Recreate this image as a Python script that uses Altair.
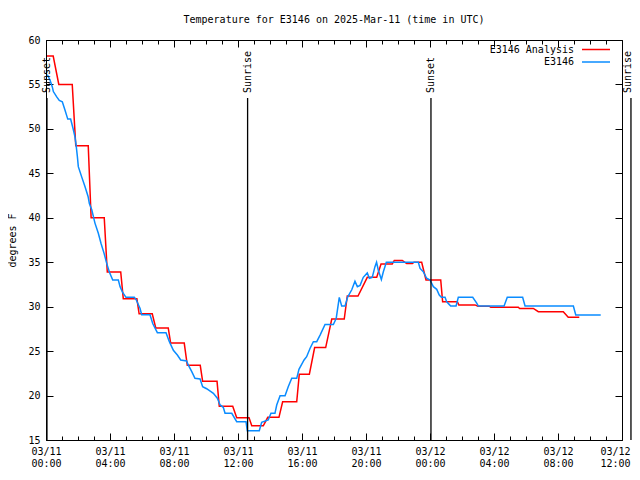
import altair as alt
import pandas as pd

MONO = "DejaVu Sans Mono"
TITLE = "Temperature for E3146 on 2025-Mar-11 (time in UTC)"
SERIES = ["E3146 Analysis", "E3146"]
COLORS = ["#ff0000", "#0a8cff"]

# Analysis (red): hours since 2025-03-11 00:00 UTC, degrees F
red_hours = [0.06, 0.45, 0.8, 1.64, 1.86, 2.64, 2.82, 3.64, 3.83, 4.67, 4.83, 5.68,
             5.82, 6.64, 6.86, 7.64, 7.79, 8.64, 8.83, 9.64, 9.79, 10.69, 10.83, 11.67,
             11.92, 12.69, 12.86, 13.58, 13.86, 14.56, 14.79, 15.67, 15.83, 16.46, 16.79,
             17.48, 17.86, 18.64, 18.83, 19.5, 20.08, 20.67, 20.94, 21.64, 21.77, 22.27,
             22.54, 22.9, 23.0, 23.48, 23.75, 24.67, 24.79, 25.71, 25.8, 26.81, 27.0,
             27.7, 27.8, 29.52, 29.6, 30.46, 30.77, 32.33, 32.64, 33.33]
red_temps = [58.2, 58.2, 55.0, 55.0, 48.1, 48.1, 40.0, 40.0, 33.9, 33.9, 30.9, 30.9,
             29.2, 29.2, 27.6, 27.6, 25.9, 25.9, 23.4, 23.4, 21.6, 21.6, 18.8, 18.8,
             17.5, 17.5, 16.6, 16.6, 17.55, 17.55, 19.3, 19.3, 22.4, 22.4, 25.4,
             25.4, 28.6, 28.6, 31.2, 31.2, 33.3, 33.3, 34.8, 34.8, 35.2, 35.2,
             34.85, 34.85, 35.0, 35.0, 33.0, 33.0, 30.55, 30.55, 30.2, 30.2, 30.05,
             30.05, 29.93, 29.93, 29.8, 29.8, 29.44, 29.44, 28.8, 28.8]

# Observations (blue)
blue_hours = [0.08, 0.25, 0.39, 0.46, 0.67, 0.83, 1.02, 1.19, 1.36, 1.54, 1.71, 1.81,
              1.88, 1.96, 2.02, 2.23, 2.44, 2.63, 2.71, 2.86, 3.06, 3.27, 3.44, 3.63,
              3.79, 3.96, 4.17, 4.52, 4.63, 4.79, 5.0, 5.52, 5.63, 5.88, 5.98, 6.5,
              6.67, 6.96, 7.5, 7.71, 7.96, 8.21, 8.42, 8.79, 8.89, 9.11, 9.31, 9.63,
              9.79, 10.04, 10.46, 10.71, 10.88, 11.08, 11.19, 11.61, 11.92, 12.5, 12.58,
              13.33, 13.48, 13.89, 14.06, 14.31, 14.42, 14.63, 14.94, 15.14, 15.36,
              15.67, 15.81, 16.13, 16.29, 16.5, 16.71, 16.92, 17.13, 17.44, 17.96,
              18.14, 18.33, 18.48, 18.69, 18.86, 19.11, 19.31, 19.46, 19.63, 19.83,
              20.08, 20.21, 20.39, 20.56, 20.66, 20.77, 20.96, 21.08, 21.27, 23.27,
              23.38, 23.58, 23.79, 24.0, 24.21, 24.42, 24.58, 24.71, 24.94, 25.04,
              25.14, 25.29, 25.63, 25.77, 26.67, 26.92, 27.02, 28.63, 28.83, 29.79,
              29.94, 32.96, 33.11, 34.67]
blue_temps = [56.1, 55.5, 54.75, 54.2, 53.6, 53.2, 53.06, 52.1, 51.1, 51.1, 49.9, 49.1,
              48.2, 46.9, 45.75, 44.6, 43.5, 42.4, 41.6, 40.9, 39.4, 38.25, 37.1, 36.0,
              34.9, 33.9, 33.0, 33.0, 32.25, 31.6, 31.05, 31.05, 30.8, 29.8, 29.1, 29.1,
              28.1, 27.07, 27.07, 26.06, 25.1, 24.56, 24.0, 23.9, 23.44, 22.7, 21.94, 21.86,
              21.0, 20.77, 20.25, 19.7, 18.94, 18.68, 18.0, 18.0, 17.06, 17.06, 16.05,
              16.05, 17.0, 17.25, 18.0, 18.0, 18.94, 19.98, 19.98, 21.0, 21.94,
              21.94, 22.95, 24.0, 24.37, 25.3, 26.06, 26.06, 26.8, 28.0, 28.0,
              28.7, 31.05, 30.07, 30.07, 31.1, 31.9, 32.85, 32.25, 32.4, 33.3,
              33.8, 33.2, 33.3, 34.5, 35.0, 34.1, 33.05, 33.9, 35.0, 35.0,
              34.3, 33.93, 33.2, 33.0, 32.25, 31.95, 31.3, 31.05, 31.05, 30.56,
              30.37, 30.07, 30.07, 31.05, 31.05, 30.4, 30.07, 30.07, 31.05, 31.05,
              30.07, 30.07, 29.06, 29.06]

sun_events = ["Sunset", "Sunrise", "Sunset", "Sunrise"]
sun_hours = [0.06, 12.6, 24.06, 36.56]

x_major = [0, 4, 8, 12, 16, 20, 24, 28, 32, 36]
x_minor = list(range(0, 37))
x_tick_dates = ["03/11", "03/11", "03/11", "03/11", "03/11", "03/11", "03/12", "03/12", "03/12", "03/12"]
x_tick_times = ["00:00", "04:00", "08:00", "12:00", "16:00", "20:00", "00:00", "04:00", "08:00", "12:00"]
y_ticks = [15, 20, 25, 30, 35, 40, 45, 50, 55, 60]

label_expr = "[" + ",".join(f"['{d}','{t}']" for d, t in zip(x_tick_dates, x_tick_times)) + "][round(datum.value/4)]"

red_df = pd.DataFrame({"h": red_hours, "t": red_temps})
blue_df = pd.DataFrame({"h": blue_hours, "t": blue_temps})
sun_df = pd.DataFrame({"h": sun_hours, "event": sun_events})

xs = alt.Scale(domain=[0, 36], nice=False, zero=False)
ys = alt.Scale(domain=[15, 60], nice=False, zero=False)

common = dict(domain=False, grid=False, labelFlush=False, labelOverlap=False, labelBound=False)

red = alt.Chart(red_df).mark_line(color=COLORS[0], strokeWidth=1.5).encode(
    x=alt.X("h:Q", scale=xs, axis=alt.Axis(values=x_major, orient="bottom", offset=-7, tickSize=7,
                                           labelExpr=label_expr, labelPadding=6, labelBaseline="top",
                                           labelLineHeight=12, title=None,
                                           labelOffset=alt.condition(f"datum.value == {x_major[-1]}",
                                                                     alt.value(-7), alt.value(0)),
                                           **common)),
    y=alt.Y("t:Q", scale=ys, axis=alt.Axis(values=y_ticks, orient="left", offset=-7, tickSize=7,
                                           labelPadding=6, title="degrees F", titleX=-41, titleY=200,
                                           titleAngle=270, titleAlign="center", titleBaseline="middle",
                                           titleFontWeight="normal", **common)),
)

blue = alt.Chart(blue_df).mark_line(color=COLORS[1], strokeWidth=1.5).encode(
    x=alt.X("h:Q", scale=xs, axis=alt.Axis(values=x_minor, orient="bottom", offset=-4, tickSize=4,
                                           labels=False, title=None, **common)),
    y=alt.Y("t:Q", scale=ys, axis=alt.Axis(values=y_ticks, orient="right", offset=-7, tickSize=7,
                                           labels=False, title=None, **common)),
)

top_major = alt.Chart(blue_df).mark_line(opacity=0).encode(
    x=alt.X("h:Q", scale=xs, axis=alt.Axis(values=x_major, orient="top", offset=-7, tickSize=7,
                                           labels=False, title=None, **common)),
    y=alt.Y("t:Q", scale=ys, axis=None),
)
top_minor = alt.Chart(blue_df).mark_line(opacity=0).encode(
    x=alt.X("h:Q", scale=xs, axis=alt.Axis(values=x_minor, orient="top", offset=-4, tickSize=4,
                                           labels=False, title=None, **common)),
    y=alt.Y("t:Q", scale=ys, axis=None),
)

sun_rules = alt.Chart(sun_df).mark_rule(color="black", strokeWidth=1.3).encode(
    x=alt.X("h:Q", scale=xs, axis=None), y=alt.value(58), y2=alt.value(400)
)
sun_text_in = alt.Chart(sun_df.iloc[:3]).mark_text(angle=270, align="left", baseline="bottom", dy=5,
                                                   font=MONO, fontSize=10, color="black").encode(
    x=alt.X("h:Q", scale=xs, axis=None), y=alt.value(53), text="event:N"
)
sun_text_edge = alt.Chart(sun_df.iloc[3:]).mark_text(angle=270, align="left", baseline="alphabetic", dy=0.5,
                                                     font=MONO, fontSize=10, color="black").encode(
    x=alt.X("h:Q", scale=xs, axis=None), y=alt.value(53), text="event:N"
)

leg_layers = []
for i, (name, col) in enumerate(zip(SERIES, COLORS)):
    ldf = pd.DataFrame({"s": [name]})
    yv = 9.5 + 12.5 * i
    leg_layers.append(alt.Chart(ldf).mark_text(align="right", baseline="middle", font=MONO, fontSize=10,
                                               color="black").encode(
        x=alt.value(528), y=alt.value(yv), text="s:N"))
    leg_layers.append(alt.Chart(ldf).mark_rule(color=col, strokeWidth=1.5).encode(
        x=alt.value(536), x2=alt.value(564), y=alt.value(yv)))

chart = alt.layer(red, blue, top_major, top_minor, sun_rules, sun_text_in, sun_text_edge,
                  *leg_layers).resolve_scale(
    x="independent", y="independent"
).properties(
    width=576, height=400,
    title=alt.TitleParams(TITLE, font=MONO, fontSize=10, fontWeight="normal", anchor="middle",
                          offset=10, color="black"),
    padding={"left": 38, "top": 32, "right": 10, "bottom": 28},
    autosize=alt.AutoSizeParams(type="none"),
).configure_view(stroke="black", strokeWidth=1).configure_axis(
    labelFont=MONO, titleFont=MONO, labelFontSize=10, titleFontSize=10,
    tickColor="black", labelColor="black", titleColor="black", tickWidth=1
)

chart.save("out.html", embed_options={"renderer": "svg", "actions": False})
